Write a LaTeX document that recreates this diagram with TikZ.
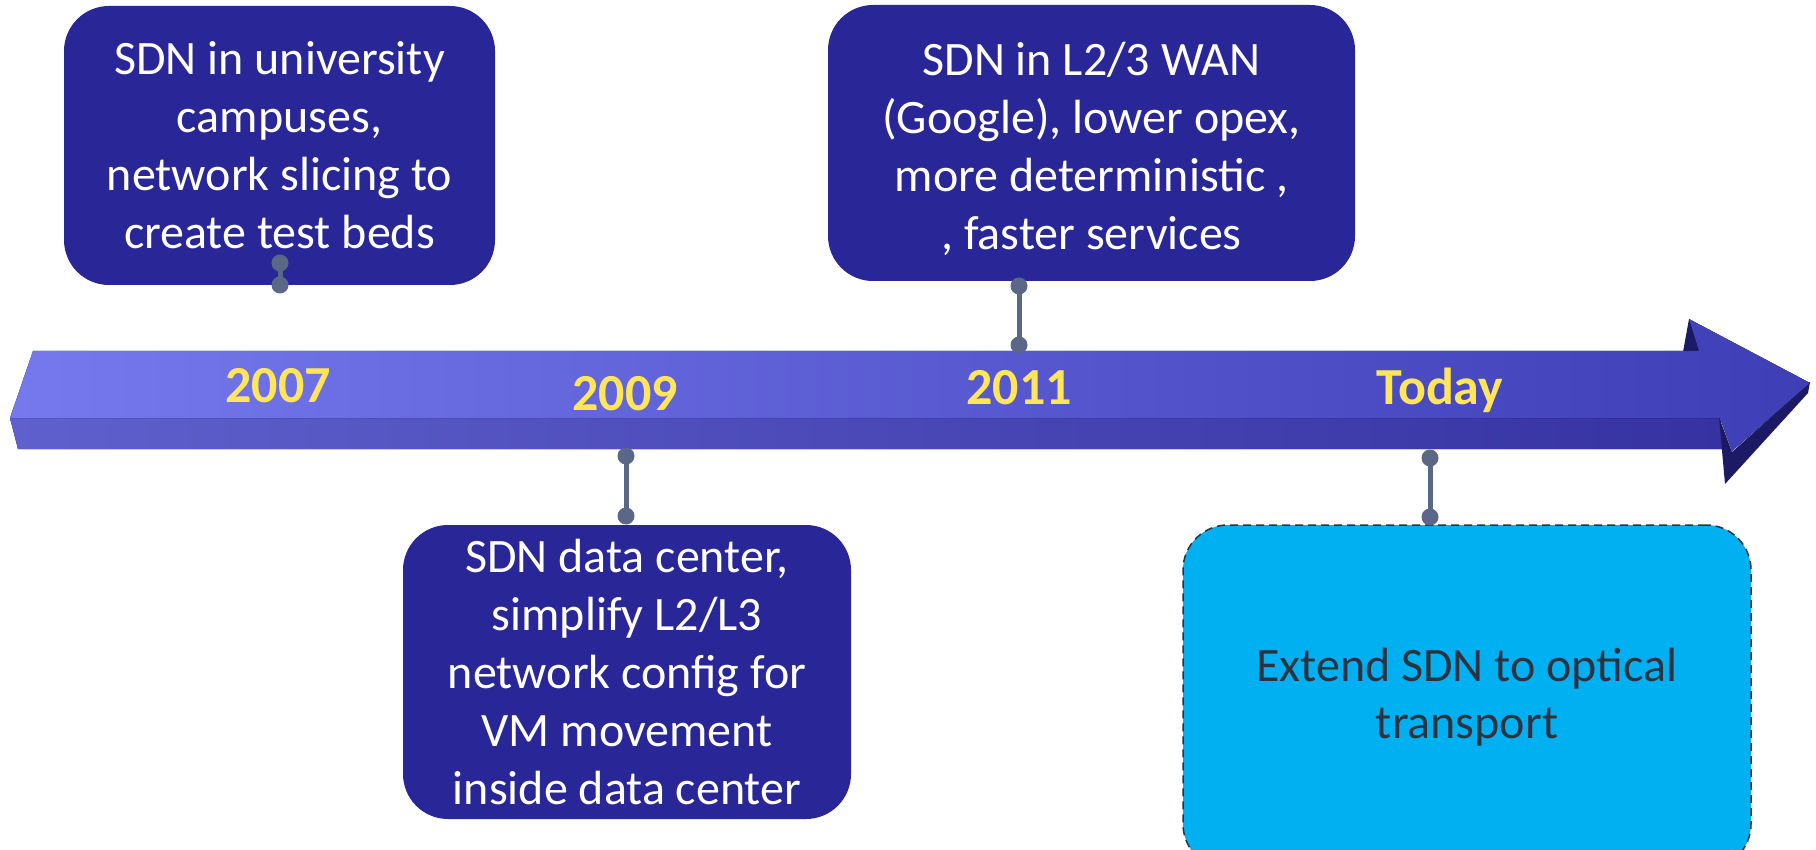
\documentclass[tikz,border=0pt]{standalone}
\usepackage{fontspec}
\setmainfont{Carlito}
\definecolor{boxblue}{RGB}{41,39,152}
\definecolor{todaycyan}{RGB}{0,176,240}
\definecolor{todaytext}{RGB}{43,51,64}
\definecolor{yearyellow}{RGB}{255,229,90}
\definecolor{stemgray}{RGB}{90,103,134}
\definecolor{topleft}{RGB}{118,121,238}
\definecolor{topright}{RGB}{62,62,182}
\definecolor{frontleft}{RGB}{95,96,205}
\definecolor{frontright}{RGB}{54,50,162}
\definecolor{sidedark}{RGB}{28,26,100}
\tikzset{
  eventbox/.style={rounded corners=45pt, fill=boxblue, text=white, align=center,
    inner sep=0pt, font=\fontsize{48}{58}\selectfont},
  todaybox/.style={rounded corners=45pt, fill=todaycyan, draw=todaytext,
    line width=1.5pt, dash pattern=on 8pt off 5pt, text=todaytext, align=center,
    inner sep=0pt, font=\fontsize{48}{57}\selectfont},
  yearlabel/.style={text=yearyellow, font=\bfseries\fontsize{52}{60}\selectfont},
  stemdot/.style={circle, fill=stemgray, minimum size=17pt, inner sep=0pt},
  stemline/.style={draw=stemgray, line width=5pt}
}
\begin{document}
\begin{tikzpicture}[x=1pt,y=-1pt]
\useasboundingbox (0,0) rectangle (1816,850);
\clip (0,0) rectangle (1816,850);
\fill[white] (0,0) rectangle (1816,850);

% timeline arrow: front face of the shaft
\fill[left color=frontleft, right color=frontright]
  (10,418) -- (1720,418) -- (1725,449) -- (18,449) -- cycle;
% dark sides of the arrow head
\fill[sidedark] (1719,417) -- (1732,452) -- (1810,382) -- (1808,393) -- (1725,484) -- cycle;
\fill[sidedark] (1683,352) -- (1689,319) -- (1700,352) -- cycle;
% top face of shaft and head
\fill[left color=topleft, right color=topright]
  (33,351) -- (1699,351) -- (1689,319) -- (1810,383) -- (1732,451) -- (1720,418) -- (10,418) -- cycle;

% year labels
\node[yearlabel] (y2007) at (278,386) {2007};
\node[yearlabel] (y2009) at (625,394) {2009};
\node[yearlabel] (y2011) at (1019,388) {2011};
\node[yearlabel] (ytoday) at (1440,390) {Today};

% event boxes
\node[eventbox, minimum width=431pt, minimum height=279pt] (b2007) at (279.5,145.5)
  {SDN in university\\campuses,\\network slicing to\\create test beds};
\node[eventbox, minimum width=527pt, minimum height=276pt] (b2011) at (1091.5,143)
  {\rule{0pt}{46pt}SDN in L2/3 WAN\\(Google), lower opex,\\more deterministic ,\\, faster services};
\node[eventbox, minimum width=448pt, minimum height=294pt] (b2009) at (627,672)
  {SDN data center,\\simplify L2/L3\\network config for\\VM movement\\inside data center};
\node[todaybox, minimum width=568pt, minimum height=344pt] (btoday) at (1467,697)
  {Extend SDN to optical\\transport};

% stems joining the boxes to the timeline
\node[stemdot] (s1a) at (280,263) {};
\node[stemdot] (s1b) at (280,285) {};
\node[stemdot] (s2a) at (1019,286) {};
\node[stemdot] (s2b) at (1019,345) {};
\node[stemdot] (s3a) at (626,456) {};
\node[stemdot] (s3b) at (626,516) {};
\node[stemdot] (s4a) at (1430,458) {};
\node[stemdot] (s4b) at (1430,517) {};
\draw[stemline] (s1a.center) -- (s1b.center);
\draw[stemline] (s2a.center) -- (s2b.center);
\draw[stemline] (s3a.center) -- (s3b.center);
\draw[stemline] (s4a.center) -- (s4b.center);
\end{tikzpicture}
\end{document}
